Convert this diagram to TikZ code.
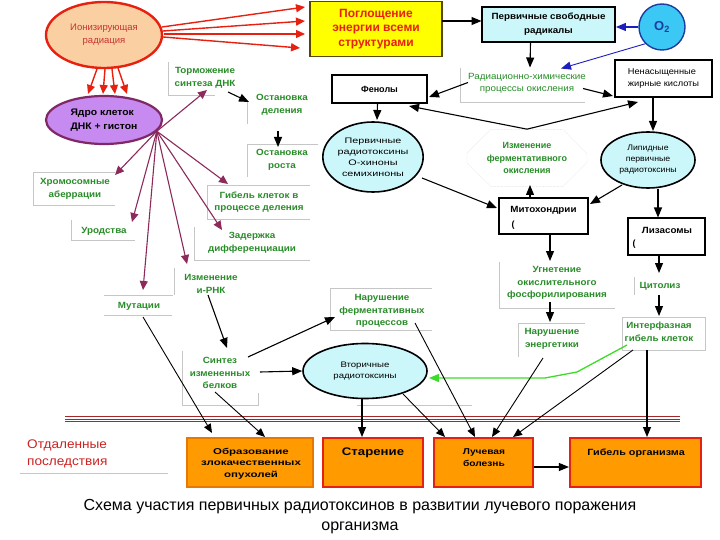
\documentclass[tikz,border=0pt]{standalone}
\usepackage{fontspec}
\setmainfont{Liberation Sans}
\newfontfamily\fsA[FakeStretch=1.09]{Liberation Sans}
\newfontfamily\fsB[FakeStretch=1.2]{Liberation Sans}
\newfontfamily\fsC[FakeStretch=1.35]{Liberation Sans}
\usetikzlibrary{shapes.geometric,shapes.misc,arrows.meta}
\definecolor{grn}{RGB}{40,140,40}
\definecolor{purp}{RGB}{140,42,92}
\definecolor{purpd}{RGB}{128,40,100}
\definecolor{redc}{RGB}{232,32,16}
\definecolor{ionred}{RGB}{200,50,50}
\definecolor{peach}{RGB}{250,208,162}
\definecolor{lav}{RGB}{198,138,240}
\definecolor{lcyan}{RGB}{204,247,250}
\definecolor{orng}{RGB}{255,155,0}
\definecolor{orngd}{RGB}{232,120,0}
\definecolor{yel}{RGB}{255,255,0}
\definecolor{o2f}{RGB}{60,200,245}
\definecolor{o2b}{RGB}{28,60,160}
\definecolor{bluea}{RGB}{30,30,190}
\definecolor{dred}{RGB}{165,40,40}
\definecolor{otdred}{RGB}{205,35,35}
\definecolor{garr}{RGB}{60,220,40}
\tikzset{
  lbl/.style={text=grn, font=\fsA\bfseries\fontsize{9}{12.5}\selectfont, align=center, inner sep=1pt},
  arr/.style={-{Triangle[length=10pt,width=8pt]}, line width=1.1pt},
  tarr/.style={-{Triangle[length=9pt,width=7.5pt]}, line width=0.9pt},
  parr/.style={draw=purp, line width=1.1pt, -{Triangle[length=9pt,width=8pt,fill=purp]}},
  rarr/.style={draw=redc, line width=1.4pt, -{Triangle[length=9pt,width=8pt,fill=redc]}},
  tb/.style={draw=gray!45, line width=0.6pt},
  blk/.style={draw=black, line width=1.8pt, fill=white},
  cyell/.style={ellipse, draw=black, line width=1.6pt, fill=lcyan, inner sep=0pt, align=center},
  obox/.style={draw=redc, line width=2.2pt, fill=orng, minimum height=49pt},
  otxt/.style={font=\bfseries\fontsize{8.5}{11.5}\selectfont, align=center, inner sep=0pt},
}
\begin{document}
\begin{tikzpicture}[x=1pt,y=-1pt]
\fill[white] (0,0) rectangle (720,540);
\useasboundingbox (0,0) rectangle (720,540);

% faint text-box edges
\draw[tb] (168,62)--(168,95)--(215,95);
\draw[tb] (247,100)--(247,124);
\draw[tb] (318,144)--(247,144)--(247,177);
\draw[tb] (310,185)--(207,185)--(207,219)--(310,219);
\draw[tb] (194,227)--(194,260)--(310,260);
\draw[tb] (115,172)--(33,172)--(33,205)--(115,205);
\draw[tb] (71,220)--(71,240)--(135,240);
\draw[tb] (174,268)--(174,295);
\draw[tb] (104,295)--(173,295);
\draw[tb] (104,315)--(172,315);
\draw[tb] (182,351)--(182,405)--(258,405)--(258,393);
\draw[tb] (432,288)--(330,288)--(330,330)--(432,330);
\draw[tb] (357,405)--(472,405);
\draw[tb] (460,68)--(460,102)--(585,102);
\draw[tb] (499,262)--(499,308)--(615,308);
\draw[tb] (518,357)--(518,323)--(585,323);
\draw[tb] (634,277)--(634,295);
\draw[tb] (622,317) rectangle (705,350);
\draw[tb] (20,473)--(168,473);

% separating triple line
\foreach \yy in {416.5,419,421.5} \draw[draw=dred, line width=0.7pt] (65,\yy) -- (680,\yy);

% main nodes
\node[ellipse, draw=redc, line width=2.4pt, fill=peach, minimum width=116pt, minimum height=66pt, text=ionred, font=\fontsize{9.5}{13}\selectfont, align=center, inner sep=0pt] (ion) at (104,35) {Ионизирующая\\радиация};
\node[draw={rgb,255:red,90;green,70;blue,0}, line width=1.4pt, fill=yel, minimum width=132pt, minimum height=55pt, text=redc, font=\bfseries\fontsize{12}{14.5}\selectfont, align=center] (absorb) at (376,29) {Поглощение\\энергии всеми\\структурами};
\node[blk, fill=lcyan, minimum width=133pt, minimum height=35pt, font=\fsA\bfseries\fontsize{9}{14}\selectfont, align=center] (rad) at (548.5,24.5) {Первичные свободные\\радикалы};
\node[circle, draw=o2b, line width=1.4pt, fill=o2f, minimum size=46pt, inner sep=0pt, text=o2b, font=\bfseries\fontsize{13}{15}\selectfont] (o2) at (662,27) {O\textsubscript{2}};
\node[ellipse, draw=purpd, line width=2.2pt, fill=lav, minimum width=116pt, minimum height=48pt, font=\fsA\bfseries\fontsize{9.5}{13.5}\selectfont, align=left, inner sep=0pt] (nuc) at (104,120) {Ядро клеток\\ДНК + гистон};

\node[lbl] (torm) at (205,78) {Торможение\\синтеза ДНК};
\node[lbl] (ostd) at (282,105) {Остановка\\деления};
\node[lbl] (ostr) at (282,160) {Остановка\\роста};
\node[lbl] (gib) at (259,202) {Гибель клеток в\\процессе деления};
\node[lbl] (zad) at (252,243) {Задержка\\дифференциации};
\node[lbl] (chrom) at (75,189) {Хромосомные\\аберрации};
\node[lbl] (urod) at (104,231) {Уродства};
\node[lbl] (irnk) at (211,284) {Изменение\\и-РНК};
\node[lbl] (mut) at (139,306) {Мутации};
\node[lbl] (sint) at (220,373) {Синтез\\измененных\\белков};
\node[lbl] (narf) at (382,311) {Нарушение\\ферментативных\\процессов};
\node[lbl] (ugn) at (557,283) {Угнетение\\окислительного\\фосфорилирования};
\node[lbl] (nare) at (552,339) {Нарушение\\энергетики};
\node[lbl] (cit) at (660,286) {Цитолиз};
\node[lbl] (intf) at (659,332) {Интерфазная\\гибель клеток};
\node[lbl, font=\fsA\fontsize{9}{12}\selectfont] (rhp) at (527,83.5) {Радиационно-химические\\процессы окисления};

\node[blk, minimum width=95pt, minimum height=28pt, font=\bfseries\fontsize{9}{11}\selectfont] (fen) at (379.5,89) {Фенолы};
\node[blk, minimum width=97pt, minimum height=37pt, font=\fsA\fontsize{8.5}{12}\selectfont, align=left] (nzk) at (663.5,78.5) {Ненасыщенные\\жирные кислоты};
\node[cyell, minimum width=98pt, minimum height=70pt, font=\fsC\fontsize{8}{11}\selectfont] (prt) at (373,157) {Первичные\\радиотоксины\\О-хиноны\\семихиноны};
\node[lbl, font=\bfseries\fontsize{9}{12.5}\selectfont, chamfered rectangle, chamfered rectangle xsep=12pt, chamfered rectangle ysep=12pt, draw=gray!40, densely dotted, minimum width=120pt, minimum height=53pt] (izm) at (527,158) {Изменение\\ферментативного\\окисления};
\node[cyell, minimum width=94pt, minimum height=56pt, font=\fsA\fontsize{8}{11}\selectfont] (lip) at (648,160) {Липидные\\первичные\\радиотоксины};
\node[blk, minimum width=89pt, minimum height=36pt] (mito) at (543.5,216) {};
\node[font=\fsA\bfseries\fontsize{9}{11}\selectfont, inner sep=0pt] (mitot) at (543.5,210) {Митохондрии};
\node[font=\bfseries\fontsize{9}{11}\selectfont, inner sep=0pt] (mitob) at (513,225) {(};
\node[blk, minimum width=77pt, minimum height=37pt] (liz) at (666.5,236.5) {};
\node[font=\fsA\bfseries\fontsize{9}{11}\selectfont, inner sep=0pt] (lizt) at (667,230) {Лизасомы};
\node[font=\bfseries\fontsize{9}{11}\selectfont, inner sep=0pt] (lizb) at (634,244) {(};
\node[cyell, minimum width=124pt, minimum height=55pt, font=\fsB\fontsize{8}{11}\selectfont] (vtor) at (365,371) {Вторичные\\радиотоксины};

% bottom boxes
\node[obox, draw=orngd, minimum width=126pt] (obr) at (250,462.5) {};
\node[otxt, font=\fsC\bfseries\fontsize{8.5}{11.5}\selectfont] (obrt) at (251,463.5) {Образование\\злокачественных\\опухолей};
\node[obox, minimum width=100pt] (star) at (373,462.5) {};
\node[otxt, font=\fsB\bfseries\fontsize{11}{13}\selectfont] (start) at (373,453) {Старение};
\node[obox, minimum width=99pt] (luch) at (483.5,462.5) {};
\node[otxt, font=\fsB\bfseries\fontsize{8.5}{11.5}\selectfont] (lucht) at (484,457.5) {Лучевая\\болезнь};
\node[obox, minimum width=131pt] (gor) at (635.5,462.5) {};
\node[otxt, font=\fsB\bfseries\fontsize{9}{11}\selectfont] (gort) at (636,453) {Гибель организма};

\node[text=otdred, font=\fsA\fontsize{12.5}{17}\selectfont, align=left, anchor=west, inner sep=0pt] (otd) at (27,453.5) {Отдаленные\\последствия};
\node[font=\fontsize{16}{20}\selectfont, align=center, inner sep=0pt] (cap) at (360,517) {Схема участия первичных радиотоксинов в развитии лучевого поражения\\организма};

% red arrows
\draw[rarr] ([shift={(58,-8)}]ion.center) -- ([shift={(-71,-22)}]absorb.center);
\draw[rarr] ([shift={(59,-4)}]ion.center) -- ([shift={(-71,-8)}]absorb.center);
\draw[rarr] ([shift={(60,-1)}]ion.center) -- ([shift={(-71,5)}]absorb.center);
\draw[rarr] ([shift={(59,2)}]ion.center) -- ([shift={(-76,19)}]absorb.center);
\draw[rarr] ([shift={(-7,34)}]ion.center) -- ([shift={(-16,-26)}]nuc.center);
\draw[rarr] ([shift={(1,34)}]ion.center) -- ([shift={(-1,-26)}]nuc.center);
\draw[rarr] ([shift={(8,34)}]ion.center) -- ([shift={(11,-26)}]nuc.center);
\draw[rarr] ([shift={(14,33)}]ion.center) -- ([shift={(23,-26)}]nuc.center);

% purple arrows
\draw[parr] (nuc.-12) -- ([shift={(2,12)}]torm.center);
\draw[parr] (nuc.-12) -- ([shift={(-31,-18)}]gib.center);
\draw[parr] (nuc.-12) -- ([shift={(-30,-13)}]zad.center);
\draw[parr] (nuc.-12) -- ([shift={(-24,-20)}]irnk.center);
\draw[parr] (nuc.-12) -- ([shift={(4,-16)}]mut.center);
\draw[parr] (nuc.-12) -- ([shift={(28,-9)}]urod.center);
\draw[parr] (nuc.-12) -- ([shift={(40,-14)}]chrom.center);

% black arrows
\draw[arr] ([shift={(66,-8)}]absorb.center) -- ([shift={(-67,-3.5)}]rad.center);
\draw[arr, draw=bluea, -{Triangle[length=10pt,width=8pt,fill=bluea]}] (o2.west) -- (o2.west -| rad.east);
\draw[draw=bluea, line width=0.9pt, -{Triangle[length=10pt,width=8pt,fill=bluea]}] (o2.-135) -- ([shift={(34,-15)}]rhp.center);
\draw[arr] ([xshift=-18pt]rad.south) -- ([shift={(3,-16)}]rhp.center);
\draw[arr] ([shift={(-59,-1)}]rhp.center) -- ([shift={(49.5,8)}]fen.center);
\draw[arr] ([shift={(56,5)}]rhp.center) -- ([shift={(-50.5,17.5)}]nzk.center);
\draw[arr] ([xshift=-2pt]fen.south) -- ([shift={(4,-37)}]prt.center);
\draw[arr] (izm.north) -- ([shift={(29.5,17)}]fen.center);
\draw[arr] (izm.north) -- ([shift={(-25.5,23.5)}]nzk.center);
\draw[arr] ([xshift=-10.5pt]nzk.south) -- ([shift={(5,-29)}]lip.center);
\draw[arr] ([shift={(49,21)}]prt.center) -- ([shift={(-46.5,-8)}]mito.center);
\draw[arr] ([shift={(-26,25)}]lip.center) -- ([shift={(46.5,-12)}]mito.center);
\draw[arr] ([xshift=-13.5pt]mito.north) -- ([shift={(3,27)}]izm.center);
\draw[arr] ([xshift=10pt]lip.south) -- ([shift={(-8.5,-19)}]liz.center);
\draw[arr] ([xshift=6.5pt]mito.south) -- ([shift={(-7,-22)}]ugn.center);
\draw[arr] ([xshift=-7.5pt]liz.south) -- ([shift={(-1,-13)}]cit.center);
\draw[arr] ([shift={(-7,19)}]ugn.center) -- ([shift={(-2,-17)}]nare.center);
\draw[arr] ([shift={(-1,9)}]cit.center) -- ([shift={(0,-16)}]intf.center);
\draw[line width=1.3pt, draw=garr, -{Triangle[length=10pt,width=8pt,fill=garr]}] ([shift={(-32,13)}]intf.center) -- ++(-50,27) -- ++(-32,6) -- ([shift={(64,7)}]vtor.center);
\draw[arr] ([shift={(23,14)}]torm.center) -- ([shift={(-33,-3)}]ostd.center);
\draw[arr] ([shift={(-4,26)}]ostd.center) -- ([shift={(-4,-13)}]ostr.center);
\draw[arr] ([shift={(-3,11)}]irnk.center) -- ([shift={(7,-25)}]sint.center);
\draw[arr] ([shift={(28,-16)}]sint.center) -- ([shift={(-47,6)}]narf.center);
\draw[arr] ([shift={(40,-1)}]sint.center) -- (vtor.west);
\draw[tarr] ([shift={(4,11)}]mut.center) -- ([shift={(-38,-29.5)}]obr.center);
\draw[tarr] ([shift={(-5,19)}]sint.center) -- ([shift={(15,-25.5)}]obr.center);
\draw[arr] ([xshift=-3pt]vtor.south) -- ([shift={(-11,-25.5)}]star.center);
\draw[tarr] ([shift={(38,23)}]vtor.center) -- ([shift={(-38.5,-25.5)}]luch.center);
\draw[tarr] ([shift={(33,12)}]narf.center) -- ([shift={(-8.5,-25.5)}]luch.center);
\draw[tarr] ([shift={(-9,19)}]nare.center) -- ([shift={(8.5,-25.5)}]luch.center);
\draw[tarr] ([shift={(-26,18)}]intf.center) -- ([shift={(29.5,-25.5)}]luch.center);
\draw[arr] ([shift={(-12,18)}]intf.center) -- ([shift={(11.5,-25.5)}]gor.center);
\draw[arr] ([yshift=-4.5pt]luch.east) -- ([yshift=-4.5pt]gor.west);
\end{tikzpicture}
\end{document}
